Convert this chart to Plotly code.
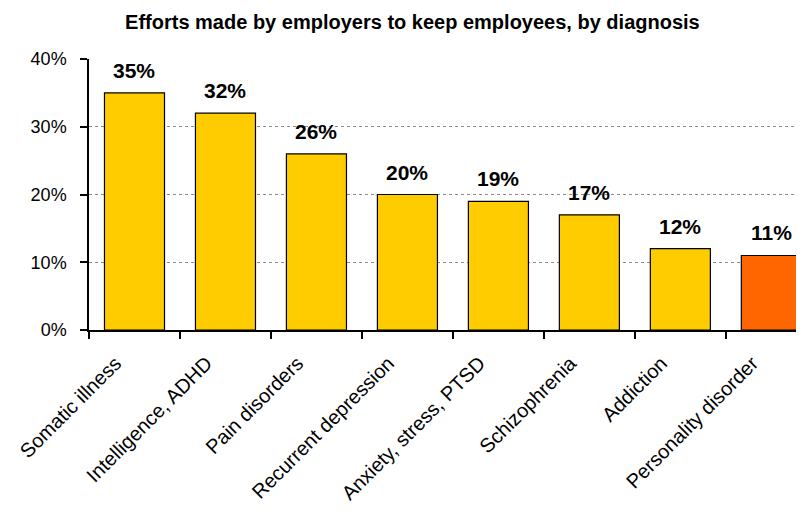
import plotly.graph_objects as go

categories = ["Somatic illness", "Intelligence, ADHD", "Pain disorders", "Recurrent depression",
              "Anxiety, stress, PTSD", "Schizophrenia", "Addiction", "Personality disorder"]
values = [0.35, 0.32, 0.26, 0.20, 0.19, 0.17, 0.12, 0.11]
labels = ["35%", "32%", "26%", "20%", "19%", "17%", "12%", "11%"]
colors = ["#FFCC00"] * 7 + ["#FF6600"]
yticks = [0, 0.1, 0.2, 0.3, 0.4]
ytick_labels = ["0%", "10%", "20%", "30%", "40%"]

font = "Liberation Sans, Arial, sans-serif"

fig = go.Figure(go.Bar(
    x=categories, y=values,
    marker=dict(color=colors, line=dict(color="black", width=1.2)),
    width=0.66,
))

for c, v, t in zip(categories, values, labels):
    fig.add_annotation(x=c, y=v, text="<b>%s</b>" % t, showarrow=False,
                       yanchor="bottom", yshift=9,
                       font=dict(family=font, size=21, color="black"))

fig.update_layout(
    width=804, height=513,
    margin=dict(l=73, r=8, t=51, b=191),
    paper_bgcolor="white", plot_bgcolor="white",
    showlegend=False,
    title=dict(text="<b>Efforts made by employers to keep employees, by diagnosis</b>",
               x=0.503, xanchor="center", y=0.973, yanchor="middle",
               font=dict(family=font, size=20, color="black")),
    font=dict(family=font, color="black"),
)

fig.update_yaxes(range=[0, 0.4], tickvals=yticks, ticktext=ytick_labels,
                 showline=True, linecolor="black", linewidth=1.5,
                 ticks="outside", ticklen=7, tickcolor="black", tickwidth=1.5,
                 ticklabelstandoff=10,
                 showgrid=True, gridcolor="#8a8a8a", griddash="dot", gridwidth=1,
                 tickfont=dict(family=font, size=18, color="black"),
                 zeroline=False)

fig.update_xaxes(range=[-0.5, 7.359], showline=True, linecolor="black", linewidth=1.5,
                 ticks="outside", tickson="boundaries", ticklen=7, tickcolor="black", tickwidth=1.5,
                 tickangle=-45, ticklabelshift=-19, ticklabelstandoff=12,
                 tickfont=dict(family=font, size=20, color="black"),
                 showgrid=False)

fig.write_html("out.html")
